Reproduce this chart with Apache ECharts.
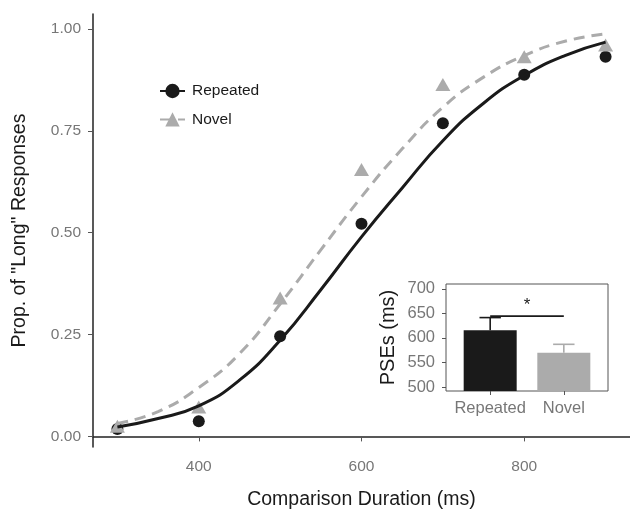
<!DOCTYPE html>
<html>
<head>
<meta charset="utf-8">
<script src="https://cdn.jsdelivr.net/npm/echarts@6/dist/echarts.min.js"></script>
<style>
  html, body { margin: 0; background: #fff; }
  #chart { width: 630px; height: 515px; }
</style>
</head>
<body>
<div id="chart"></div>
<script>
// observed proportions
const durations = [300, 400, 500, 600, 700, 800, 900]
const repeatedProp = [0.018, 0.037, 0.246, 0.522, 0.769, 0.888, 0.932]
const novelProp = [0.025, 0.072, 0.34, 0.655, 0.864, 0.932, 0.961]

// fitted curves, every 50 ms
const fitDurations = [300, 350, 400, 450, 500, 550, 600, 650, 700, 750, 800, 850, 900]
const repeatedFit = [0.023, 0.044, 0.075, 0.138, 0.236, 0.36, 0.49, 0.61, 0.726, 0.818, 0.886, 0.935, 0.968]
const novelFit = [0.032, 0.061, 0.12, 0.203, 0.325, 0.458, 0.588, 0.706, 0.808, 0.882, 0.935, 0.97, 0.988]

// inset: PSEs
const pseGroups = ['Repeated', 'Novel']
const pseMeans = [615.8, 569.9]
const pseUpper = [641.5, 587]
const sigLevel = [644.5]

const xTicks = [400, 600, 800]
const yTicks = [0, 0.25, 0.5, 0.75, 1]
const pseTicks = [500, 550, 600, 650, 700]

const font = 'Liberation Sans, Arial, Helvetica, sans-serif'
const black = '#1a1a1a'
const grey = '#ababab'
const tickGrey = '#777777'
const groupColors = [black, grey]

const chart = echarts.init(document.getElementById('chart'))

const pairs = (xs, ys) => xs.map((x, i) => [x, ys[i]])

chart.setOption({
  backgroundColor: '#fff',
  animation: false,
  textStyle: { fontFamily: font },
  legend: {
    data: ['Repeated', 'Novel'],
    orient: 'vertical',
    left: 154,
    top: 78,
    itemWidth: 25,
    itemHeight: 18,
    itemGap: 12.4,
    textStyle: { fontSize: 15.5, color: black, fontFamily: font, padding: [0, 0, 0, 2] },
  },
  grid: [
    { left: 93, top: 14, right: -12, bottom: 64, show: false },
    {
      left: 446, top: 284, width: 162, height: 107,
      show: true, backgroundColor: '#fff', borderColor: '#555', borderWidth: 1, z: 5,
    },
  ],
  xAxis: [
    {
      type: 'value', gridIndex: 0, min: 270, max: 930,
      name: 'Comparison Duration (ms)', nameLocation: 'middle', nameGap: 43,
      nameTextStyle: { fontSize: 19.5, color: black, fontFamily: font },
      axisLine: { lineStyle: { color: '#222', width: 1.5 } },
      axisTick: { show: true, length: 5, lineStyle: { color: '#555' }, customValues: xTicks },
      axisLabel: { color: tickGrey, fontSize: 15.5, margin: 12, customValues: xTicks },
      splitLine: { show: false },
    },
    {
      type: 'value', gridIndex: 1, min: 0.4, max: 2.6,
      axisLine: { show: false },
      axisTick: { show: true, length: 4, lineStyle: { color: '#555' }, customValues: [1, 2] },
      axisLabel: {
        color: tickGrey, fontSize: 16.5, margin: 9, customValues: [1, 2],
        formatter: (v) => pseGroups[Math.round(v) - 1] || '',
      },
      splitLine: { show: false },
    },
  ],
  yAxis: [
    {
      type: 'value', gridIndex: 0, min: -0.026, max: 1.037,
      name: 'Prop. of "Long" Responses', nameLocation: 'middle', nameGap: 63,
      nameTextStyle: { fontSize: 19.5, color: black, fontFamily: font },
      axisLine: { show: true, lineStyle: { color: '#222', width: 1.5 } },
      axisTick: { show: true, length: 5, lineStyle: { color: '#555' }, customValues: yTicks },
      axisLabel: {
        color: tickGrey, fontSize: 15.5, margin: 12, customValues: yTicks,
        formatter: (v) => v.toFixed(2),
      },
      splitLine: { show: false },
    },
    {
      type: 'value', gridIndex: 1, min: 491.8, max: 710,
      name: 'PSEs (ms)', nameLocation: 'middle', nameGap: 48,
      nameTextStyle: { fontSize: 20, color: black, fontFamily: font },
      axisLine: { show: false },
      axisTick: { show: true, length: 4, lineStyle: { color: '#555' }, customValues: pseTicks },
      axisLabel: { color: tickGrey, fontSize: 16.5, margin: 11, customValues: pseTicks },
      splitLine: { show: false },
    },
  ],
  series: [
    {
      name: 'Repeated points', type: 'scatter', xAxisIndex: 0, yAxisIndex: 0,
      data: pairs(durations, repeatedProp),
      symbol: 'circle', symbolSize: 12, itemStyle: { color: black, opacity: 1 }, z: 2,
    },
    {
      name: 'Novel points', type: 'scatter', xAxisIndex: 0, yAxisIndex: 0,
      data: pairs(durations, novelProp),
      symbol: 'triangle', symbolSize: [15, 13], itemStyle: { color: grey, opacity: 1 }, z: 2,
    },
    {
      name: 'Novel', type: 'line', xAxisIndex: 0, yAxisIndex: 0,
      data: pairs(fitDurations, novelFit),
      smooth: 0.5, showSymbol: false, symbol: 'triangle', symbolSize: 13,
      itemStyle: { color: grey },
      lineStyle: { color: grey, width: 3, type: [11, 7] }, z: 3,
    },
    {
      name: 'Repeated', type: 'line', xAxisIndex: 0, yAxisIndex: 0,
      data: pairs(fitDurations, repeatedFit),
      smooth: 0.5, showSymbol: false, symbol: 'circle', symbolSize: 12,
      itemStyle: { color: black },
      lineStyle: { color: black, width: 3 }, z: 4,
    },
    {
      name: 'PSE', type: 'bar', xAxisIndex: 1, yAxisIndex: 1,
      data: pseMeans.map((v, i) => ({ value: [i + 1, v], itemStyle: { color: groupColors[i] } })),
      barWidth: 53, z: 6,
    },
    {
      name: 'PSE error', type: 'custom', xAxisIndex: 1, yAxisIndex: 1, z: 7,
      data: pseMeans.map((v, i) => ({ value: [i + 1, v, pseUpper[i]], itemStyle: { color: groupColors[i] } })),
      renderItem: (params, api) => {
        const base = api.coord([api.value(0), api.value(1)])
        const top = api.coord([api.value(0), api.value(2)])
        const color = api.visual('color')
        const style = { stroke: color, lineWidth: 1.6 }
        return {
          type: 'group',
          children: [
            { type: 'line', shape: { x1: base[0], y1: base[1], x2: top[0], y2: top[1] }, style },
            { type: 'line', shape: { x1: top[0] - 10.7, y1: top[1], x2: top[0] + 10.7, y2: top[1] }, style },
          ],
        }
      },
    },
    {
      name: 'Significance', type: 'custom', xAxisIndex: 1, yAxisIndex: 1, z: 8,
      data: sigLevel.map((v) => [1, 2, v]),
      renderItem: (params, api) => {
        const a = api.coord([api.value(0), api.value(2)])
        const b = api.coord([api.value(1), api.value(2)])
        return {
          type: 'group',
          children: [
            { type: 'line', shape: { x1: a[0], y1: a[1], x2: b[0], y2: b[1] }, style: { stroke: black, lineWidth: 1.6 } },
            {
              type: 'text',
              style: {
                text: '*', x: (a[0] + b[0]) / 2, y: a[1] - 11,
                fill: black, font: '17px ' + font, align: 'center', verticalAlign: 'middle',
              },
            },
          ],
        }
      },
    },
  ],
})
</script>
</body>
</html>
